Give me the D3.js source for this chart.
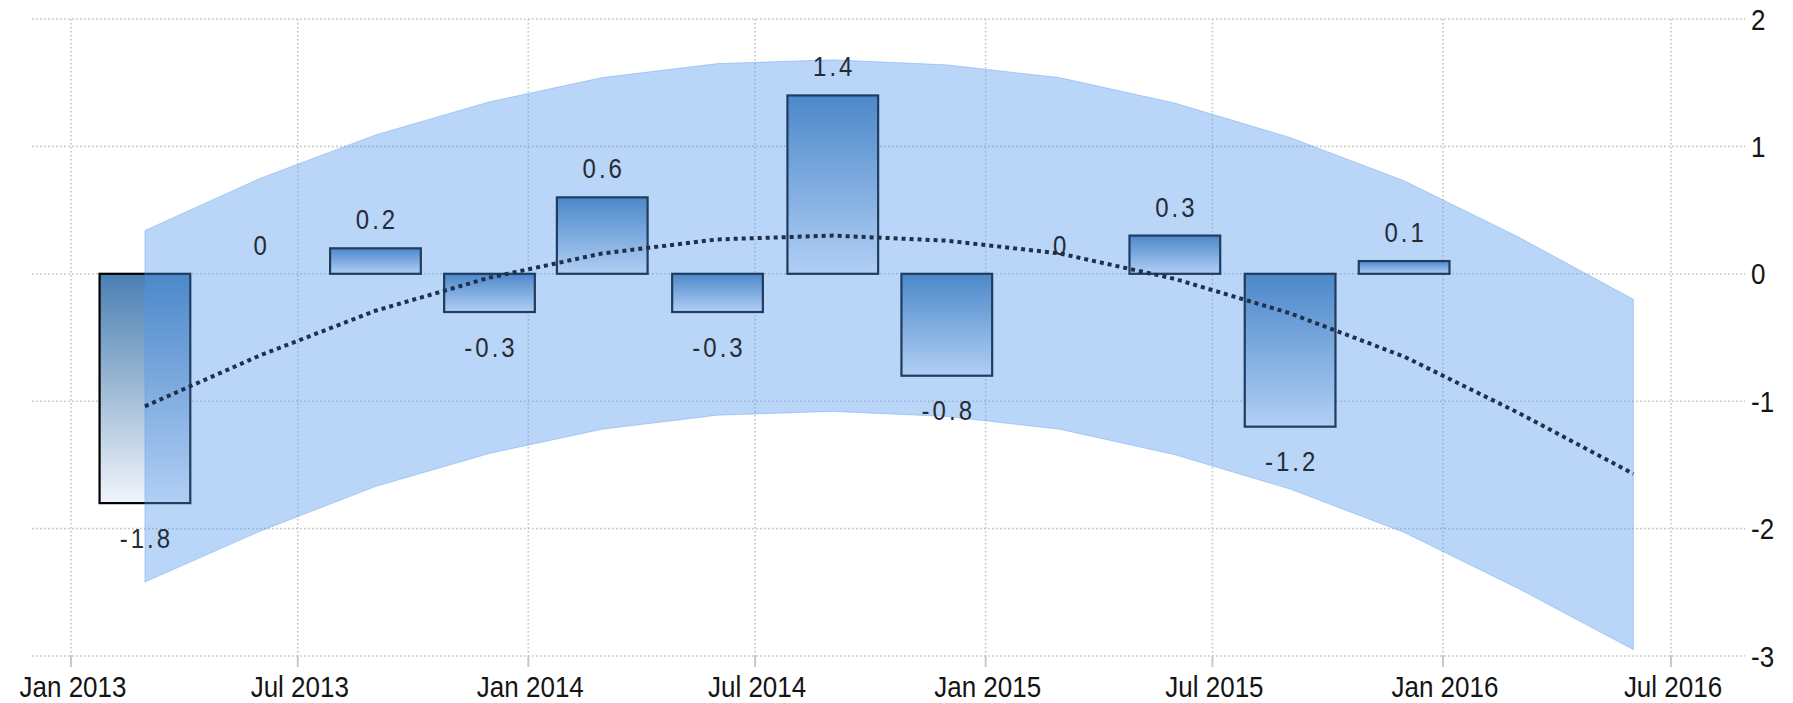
<!DOCTYPE html>
<html><head><meta charset="utf-8">
<script src="https://cdn.jsdelivr.net/npm/d3@7/dist/d3.min.js"></script>
<style>
body{margin:0;background:#fff;}
svg{display:block;}
text{font-family:"Liberation Sans",Arial,sans-serif;}
</style>
</head><body>
<svg id="chart" width="1793" height="703"></svg>
<script>
// ---- data ----
const barDates = ["2013-03-01","2013-06-01","2013-09-01","2013-12-01","2014-03-01","2014-06-01",
                  "2014-09-01","2014-12-01","2015-03-01","2015-06-01","2015-09-01","2015-12-01"];
const barValues = [-1.8, 0, 0.2, -0.3, 0.6, -0.3, 1.4, -0.8, 0, 0.3, -1.2, 0.1];
const trendDates = ["2013-03-01","2013-06-01","2013-09-01","2013-12-01","2014-03-01","2014-06-01",
                    "2014-09-01","2014-12-01","2015-03-01","2015-06-01","2015-09-01","2015-12-01",
                    "2016-03-01","2016-06-01"];
const trendValues = [-1.04, -0.64, -0.29, -0.03, 0.16, 0.27, 0.30, 0.26, 0.16, -0.04, -0.31, -0.65, -1.09, -1.57];
const bandUpper   = [0.34, 0.75, 1.09, 1.35, 1.54, 1.65, 1.68, 1.64, 1.54, 1.34, 1.07, 0.73, 0.29, -0.20];
const bandLower   = [-2.42, -2.02, -1.67, -1.41, -1.22, -1.11, -1.08, -1.12, -1.22, -1.42, -1.69, -2.03, -2.47, -2.95];
const xTickDates  = ["2013-01-01","2013-07-01","2014-01-01","2014-07-01","2015-01-01","2015-07-01","2016-01-01","2016-07-01"];
const xTickLabels = ["Jan 2013","Jul 2013","Jan 2014","Jul 2014","Jan 2015","Jul 2015","Jan 2016","Jul 2016"];
const yTicks = [2, 1, 0, -1, -2, -3];

// ---- layout ----
const plotLeft = 32, plotRight = 1745, plotTop = 19, plotBottom = 656;
const parse = d3.utcParse("%Y-%m-%d");

const x = d3.scaleUtc().domain([parse("2013-01-01"), parse("2016-07-01")]).range([71, 1671]);
const y = d3.scaleLinear().domain([-3, 2]).range([plotBottom, plotTop]);

const svg = d3.select("#chart");
const defs = svg.append("defs");
const grad = defs.append("linearGradient").attr("id","barGrad")
  .attr("x1",0).attr("y1",0).attr("x2",0).attr("y2",1);
grad.append("stop").attr("offset","0%").attr("stop-color","#4a7fb2");
grad.append("stop").attr("offset","100%").attr("stop-color","#f1f5fa");

// gridlines
const grid = svg.append("g");
grid.selectAll("line.h").data(yTicks).join("line")
  .attr("x1", plotLeft).attr("x2", plotRight)
  .attr("y1", d => y(d)).attr("y2", d => y(d))
  .attr("stroke", "#c4c4c4").attr("stroke-width", 1.6).attr("stroke-dasharray", "1.6,2.4");
grid.selectAll("line.v").data(xTickDates).join("line")
  .attr("x1", d => x(parse(d))).attr("x2", d => x(parse(d)))
  .attr("y1", plotTop).attr("y2", plotBottom)
  .attr("stroke", "#c4c4c4").attr("stroke-width", 1.6).attr("stroke-dasharray", "1.6,2.4");
grid.selectAll("line.t").data(xTickDates).join("line")
  .attr("x1", d => x(parse(d))).attr("x2", d => x(parse(d)))
  .attr("y1", plotBottom).attr("y2", plotBottom + 11)
  .attr("stroke", "#c8c8c8").attr("stroke-width", 2);

// bars
const step = x(parse(barDates[1])) - x(parse(barDates[0]));
const bw = step * 0.787;
const bars = barDates.map((d, i) => ({date: parse(d), v: barValues[i]}));
svg.append("g").selectAll("rect").data(bars).join("rect")
  .attr("x", d => x(d.date) - bw / 2)
  .attr("width", bw)
  .attr("y", d => y(Math.max(0, d.v)))
  .attr("height", d => Math.abs(y(d.v) - y(0)))
  .attr("fill", "url(#barGrad)")
  .attr("stroke", "#000").attr("stroke-width", 2.2)
  .attr("display", d => d.v === 0 ? "none" : null);

// band
const bandData = trendDates.map((d, i) => ({date: parse(d), lo: bandLower[i], hi: bandUpper[i]}));
svg.append("path").datum(bandData)
  .attr("d", d3.area().x(d => x(d.date)).y0(d => y(d.lo)).y1(d => y(d.hi)))
  .attr("fill", "rgba(80,149,238,0.4)")
  .attr("stroke", "rgba(80,149,238,0.35)").attr("stroke-width", 1);

// trend
const trendData = trendDates.map((d, i) => ({date: parse(d), v: trendValues[i]}));
svg.append("path").datum(trendData)
  .attr("d", d3.line().x(d => x(d.date)).y(d => y(d.v)))
  .attr("fill", "none").attr("stroke", "#1f3048")
  .attr("stroke-width", 4).attr("stroke-dasharray", "4,4");

// value labels
const sy = 1.15;
svg.append("g").selectAll("text").data(bars).join("text")
  .attr("transform", d => {
    const base = d.v >= 0 ? y(d.v) - 19 : y(d.v) + 25 + 19.5;
    return `translate(${x(d.date) + 1.5},${base}) scale(1,${sy})`;
  })
  .attr("text-anchor", "middle")
  .attr("font-size", 24)
  .attr("letter-spacing", 3)
  .attr("fill", "#262c36")
  .text(d => d.v);

// x axis labels
svg.append("g").selectAll("text").data(xTickDates).join("text")
  .attr("transform", (d) => `translate(${x(parse(d)) + 2},697) scale(1,${sy})`)
  .attr("text-anchor", "middle")
  .attr("font-size", 26)
  .attr("fill", "#141414")
  .text((d, i) => xTickLabels[i]);

// y axis labels (right)
svg.append("g").selectAll("text").data(yTicks).join("text")
  .attr("transform", d => `translate(1751,${y(d) + 10.5}) scale(1,${sy})`)
  .attr("text-anchor", "start")
  .attr("font-size", 26)
  .attr("fill", "#141414")
  .text(d => d);
</script>
</body></html>
